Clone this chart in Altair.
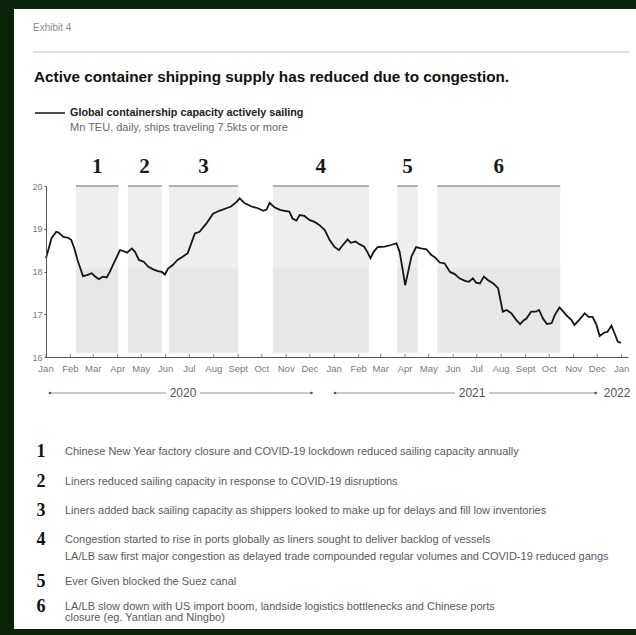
import altair as alt
import pandas as pd

# ---- series: global containership capacity actively sailing (Mn TEU) ----
dates = [
    "2020-01-01", "2020-01-08", "2020-01-14", "2020-01-17", "2020-01-23", "2020-01-29",
    "2020-02-02", "2020-02-06", "2020-02-10", "2020-02-17", "2020-02-23", "2020-02-28",
    "2020-03-03", "2020-03-08", "2020-03-13", "2020-03-18", "2020-03-22", "2020-03-28",
    "2020-04-04", "2020-04-08", "2020-04-13", "2020-04-19", "2020-04-23", "2020-04-28",
    "2020-05-04", "2020-05-10", "2020-05-16", "2020-05-22", "2020-05-27", "2020-05-31",
    "2020-06-04", "2020-06-10", "2020-06-16", "2020-06-23", "2020-06-29", "2020-07-08",
    "2020-07-14", "2020-07-23", "2020-07-31", "2020-08-08", "2020-08-17", "2020-08-23",
    "2020-08-30", "2020-09-03", "2020-09-09", "2020-09-18", "2020-09-26", "2020-10-03",
    "2020-10-07", "2020-10-11", "2020-10-17", "2020-10-24", "2020-10-30", "2020-11-05",
    "2020-11-09", "2020-11-14", "2020-11-18", "2020-11-24", "2020-12-01", "2020-12-07",
    "2020-12-13", "2020-12-20", "2020-12-26", "2021-01-01", "2021-01-07", "2021-01-12",
    "2021-01-18", "2021-01-22", "2021-01-28", "2021-02-02", "2021-02-08", "2021-02-12",
    "2021-02-16", "2021-02-20", "2021-02-25", "2021-03-06", "2021-03-14", "2021-03-21",
    "2021-03-25", "2021-03-29", "2021-04-01", "2021-04-04", "2021-04-09", "2021-04-15",
    "2021-04-21", "2021-04-28", "2021-05-04", "2021-05-09", "2021-05-15", "2021-05-21",
    "2021-05-28", "2021-06-03", "2021-06-09", "2021-06-16", "2021-06-21", "2021-06-26",
    "2021-06-30", "2021-07-05", "2021-07-10", "2021-07-15", "2021-07-22", "2021-07-28",
    "2021-08-03", "2021-08-08", "2021-08-14", "2021-08-20", "2021-08-25", "2021-08-29",
    "2021-09-02", "2021-09-08", "2021-09-14", "2021-09-18", "2021-09-23", "2021-09-28",
    "2021-10-04", "2021-10-08", "2021-10-14", "2021-10-19", "2021-10-23", "2021-10-29",
    "2021-11-02", "2021-11-08", "2021-11-15", "2021-11-20", "2021-11-25", "2021-11-30",
    "2021-12-04", "2021-12-10", "2021-12-14", "2021-12-19", "2021-12-23", "2021-12-27",
    "2021-12-31",
]
capacity = [
    18.31, 18.78, 18.93, 18.91, 18.81, 18.79,
    18.74, 18.54, 18.27, 17.89, 17.92, 17.96,
    17.89, 17.82, 17.88, 17.86, 17.99, 18.23,
    18.50, 18.48, 18.44, 18.54, 18.46, 18.27,
    18.23, 18.11, 18.05, 18.01, 17.99, 17.93,
    18.07, 18.15, 18.27, 18.35, 18.43, 18.89,
    18.93, 19.13, 19.35, 19.42, 19.48, 19.52,
    19.63, 19.71, 19.60, 19.52, 19.48, 19.42,
    19.45, 19.61, 19.50, 19.44, 19.42, 19.40,
    19.24, 19.19, 19.32, 19.30, 19.20, 19.16,
    19.09, 18.97, 18.74, 18.58, 18.50, 18.62,
    18.75, 18.67, 18.70, 18.64, 18.58, 18.46,
    18.31, 18.46, 18.57, 18.58, 18.62, 18.66,
    18.46, 18.03, 17.68, 17.92, 18.35, 18.57,
    18.54, 18.52, 18.39, 18.33, 18.21, 18.19,
    17.99, 17.94, 17.84, 17.78, 17.76, 17.84,
    17.74, 17.72, 17.88, 17.80, 17.72, 17.61,
    17.06, 17.10, 17.02, 16.87, 16.77, 16.85,
    16.90, 17.06, 17.06, 17.10, 16.90, 16.77,
    16.79, 16.98, 17.16, 17.06, 16.97, 16.87,
    16.75, 16.87, 17.02, 16.94, 16.94, 16.75,
    16.49, 16.57, 16.59, 16.73, 16.55, 16.36,
    16.33,
]

# ---- numbered event periods ----
event_ids = ["1", "2", "3", "4", "5", "6"]
event_start = ["2020-02-08", "2020-04-14", "2020-06-05", "2020-10-15", "2021-03-22", "2021-05-12"]
event_end = ["2020-04-02", "2020-05-27", "2020-09-01", "2021-02-14", "2021-04-17", "2021-10-15"]

event_notes = [
    ["Chinese New Year factory closure and COVID-19 lockdown reduced sailing capacity annually"],
    ["Liners reduced sailing capacity in response to COVID-19 disruptions"],
    ["Liners added back sailing capacity as shippers looked to make up for delays and fill low inventories"],
    ["Congestion started to rise in ports globally as liners sought to deliver backlog of vessels",
     "LA/LB saw first major congestion as delayed trade compounded regular volumes and COVID-19 reduced gangs"],
    ["Ever Given blocked the Suez canal"],
    ["LA/LB slow down with US import boom, landside logistics bottlenecks and Chinese ports",
     "closure (eg. Yantian and Ningbo)"],
]

# ---- axis labels ----
month_names = ["Jan", "Feb", "Mar", "Apr", "May", "Jun", "Jul", "Aug", "Sept", "Oct", "Nov", "Dec"]
y_ticks = [16, 17, 18, 19, 20]

# ---- year brackets under the axis ----
year_labels = ["2020", "2021"]
year_start = ["2020-01-06", "2021-01-02"]
year_mid = ["2020-06-23", "2021-06-25"]
year_end = ["2020-12-03", "2021-11-29"]
next_year_label = "2022"

TITLE = "Active container shipping supply has reduced due to congestion."
EXHIBIT = "Exhibit 4"
LEGEND_TITLE = "Global containership capacity actively sailing"
LEGEND_SUB = "Mn TEU, daily, ships traveling 7.5kts or more"

# ---- layout ----
PAD_L, PAD_T = 46, 186
W, H = 582, 171
PAD_R = 636 - PAD_L - W
PAD_B = 635 - PAD_T - H

SANS = "Liberation Sans"
SERIF = "Liberation Serif"
FRAME = "#0a2208"


def px(x):
    return alt.value(x - PAD_L)


def py(y):
    return alt.value(y - PAD_T)


one = pd.DataFrame({"k": [0]})

series = pd.DataFrame({"date": dates, "capacity": capacity})

events = pd.DataFrame({"id": event_ids, "start": event_start, "end": event_end})
events["mid"] = (
    pd.to_datetime(events["start"]) + (pd.to_datetime(events["end"]) - pd.to_datetime(events["start"])) / 2
).dt.strftime("%Y-%m-%d")

month_starts = pd.date_range("2020-01-01", "2022-01-01", freq="MS")
month_ticks = pd.DataFrame({
    "date": month_starts.strftime("%Y-%m-%d"),
    "label": [month_names[d.month - 1] for d in month_starts],
})

years = pd.DataFrame({"label": year_labels, "start": year_start, "mid": year_mid, "end": year_end})
year_dots = pd.DataFrame({"date": year_start + year_end})
next_year = pd.DataFrame({"date": [year_end[-1]], "label": [next_year_label]})

x_scale = alt.Scale(
    type="utc",
    domain=[alt.DateTime(year=2020, month=1, date=1, utc=True),
            alt.DateTime(year=2022, month=1, date=9, utc=True)],
)
y_scale = alt.Scale(domain=[16, 20], zero=False, nice=False)

x_axis = alt.Axis(
    title=None, grid=False, ticks=False, labels=False, zindex=1,
    domainColor="#555555", domainWidth=1,
)
y_axis = alt.Axis(
    values=y_ticks, title=None, grid=False, zindex=1,
    tickSize=2, tickColor="#555555",
    domainColor="#555555", domainWidth=1,
    labelColor="#7a7a7a", labelFont=SANS, labelFontSize=9, labelPadding=2,
)

# white page on the dark frame
page = alt.Chart(one).mark_rect(color="white").encode(
    x=px(14), x2=px(636), y=py(9), y2=py(629)
)

# header
exhibit = alt.Chart(one).mark_text(
    text=EXHIBIT, align="left", baseline="middle", font=SANS, fontSize=10, color="#8a8a8a"
).encode(x=px(33), y=py(28))
header_rule = alt.Chart(one).mark_rule(color="#e0e0e0", strokeWidth=2).encode(
    x=px(33), x2=px(630), y=py(52)
)
title = alt.Chart(one).mark_text(
    text=TITLE, align="left", baseline="middle", font=SANS, fontSize=15.3, fontWeight="bold", color="#111111"
).encode(x=px(34), y=py(77))
legend_swatch = alt.Chart(one).mark_rule(color="#111111", strokeWidth=1.5).encode(
    x=px(35), x2=px(65), y=py(113)
)
legend_title = alt.Chart(one).mark_text(
    text=LEGEND_TITLE, align="left", baseline="middle", font=SANS, fontSize=10.8, fontWeight="bold", color="#222222"
).encode(x=px(70), y=py(113))
legend_sub = alt.Chart(one).mark_text(
    text=LEGEND_SUB, align="left", baseline="middle", font=SANS, fontSize=11, color="#6a6a6a"
).encode(x=px(70), y=py(128))

# shaded event periods (slightly lighter in the upper part)
base_ev = alt.Chart(events)
shade_top = base_ev.mark_rect(color="#eeeeee").encode(
    x=alt.X("start:T", scale=x_scale, axis=x_axis), x2="end:T",
    y=alt.datum(20, scale=y_scale, axis=y_axis), y2=alt.datum(18.1),
)
shade_low = base_ev.mark_rect(color="#e7e7e7").encode(
    x=alt.X("start:T"), x2="end:T", y=alt.datum(18.1), y2=alt.datum(16.1),
)
shade_cap = base_ev.mark_rule(color="#9a9a9a", strokeWidth=1.5).encode(
    x=alt.X("start:T"), x2="end:T", y=alt.datum(20),
)
shade_num = base_ev.mark_text(
    font=SERIF, fontSize=21, fontWeight="bold", color="#1a1a1a", baseline="middle", dy=-19
).encode(x=alt.X("mid:T"), y=alt.datum(20), text="id:N")

# month ticks sitting on the axis, with their labels below
month_tick_marks = alt.Chart(month_ticks).mark_rule(color="#888888", strokeWidth=1).encode(
    x=alt.X("date:T"), y=alt.datum(16), y2=alt.datum(16.07)
)
month_labels = alt.Chart(month_ticks).mark_text(
    font=SANS, fontSize=9.5, color="#7a7a7a", baseline="middle", yOffset=12
).encode(x=alt.X("date:T"), y=alt.datum(16), text="label:N")

line = alt.Chart(series).mark_line(color="#151515", strokeWidth=1.8).encode(
    x=alt.X("date:T"), y=alt.Y("capacity:Q")
)

# year brackets
YR_DY = 36
yr_left = alt.Chart(years).mark_rule(color="#777777", strokeWidth=0.8, yOffset=YR_DY, x2Offset=-17).encode(
    x=alt.X("start:T"), x2="mid:T", y=alt.datum(16)
)
yr_right = alt.Chart(years).mark_rule(color="#777777", strokeWidth=0.8, yOffset=YR_DY, xOffset=17).encode(
    x=alt.X("mid:T"), x2="end:T", y=alt.datum(16)
)
yr_text = alt.Chart(years).mark_text(
    font=SANS, fontSize=12, color="#555555", baseline="middle", yOffset=YR_DY
).encode(x=alt.X("mid:T"), y=alt.datum(16), text="label:N")
yr_dots = alt.Chart(year_dots).mark_point(
    filled=True, size=7, color="#555555", opacity=1, yOffset=YR_DY
).encode(x=alt.X("date:T"), y=alt.datum(16))
yr_next = alt.Chart(next_year).mark_text(
    font=SANS, fontSize=12, color="#555555", baseline="middle", align="left", yOffset=YR_DY, dx=8
).encode(x=alt.X("date:T"), y=alt.datum(16), text="label:N")

# numbered notes below the chart
NOTE_TOP = 452
note_gaps = [0, 30, 29, 29, 25, 25]  # space before each numbered note
PARA_GAP = 17   # second paragraph inside a note
WRAP_GAP = 11   # wrapped continuation line
note_layers = []
y_cursor = NOTE_TOP
for i, lines in enumerate(event_notes):
    y_cursor += note_gaps[i]
    note_layers.append(
        alt.Chart(one).mark_text(
            text=event_ids[i], font=SERIF, fontSize=18, fontWeight="bold", color="#111111",
            align="center", baseline="middle",
        ).encode(x=px(41), y=py(y_cursor))
    )
    for j, ln in enumerate(lines):
        if j > 0:
            y_cursor += PARA_GAP if i == 3 else WRAP_GAP
        note_layers.append(
            alt.Chart(one).mark_text(
                text=ln, font=SANS, fontSize=11, color="#5a5a5a", align="left", baseline="middle",
            ).encode(x=px(65), y=py(y_cursor))
        )

chart = alt.layer(
    page, exhibit, header_rule, title, legend_swatch, legend_title, legend_sub,
    shade_top, shade_low, shade_cap, shade_num, month_tick_marks, month_labels, line,
    yr_left, yr_right, yr_text, yr_dots, yr_next,
    *note_layers,
).properties(
    width=W, height=H,
    background=FRAME,
    autosize=alt.AutoSizeParams(type="none"),
    padding={"left": PAD_L, "top": PAD_T, "right": PAD_R, "bottom": PAD_B},
).configure_view(stroke=None)

chart.save("out.html", embed_options={"renderer": "svg", "actions": False})
